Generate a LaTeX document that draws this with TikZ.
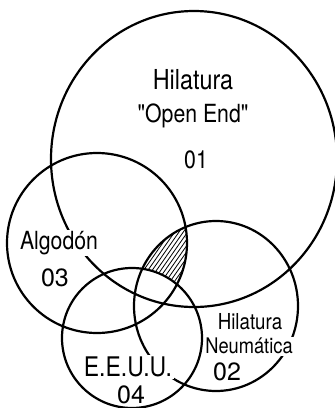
\documentclass[tikz,border=0pt]{standalone}
\usepackage{fontspec}
\setmainfont{TeX Gyre Heros}
\newfontfamily\cond{TeX Gyre Heros}[FakeStretch=0.85]
\tikzset{
  ring/.style={line width=2.2pt},
  txt/.style={inner sep=1.5pt},
  knock/.style={fill=white},
  hatchline/.style={line width=0.8pt}
}
\newcommand{\fsz}[1]{\fontsize{#1}{#1}\selectfont}
\begin{document}
\begin{tikzpicture}[x=1pt,y=-1pt]
\useasboundingbox (0,0) rectangle (335,408);
% hatched region: inside circles 2 and 3, outside circle 4
\begin{scope}
  \clip (216,306) ellipse [x radius=82pt, y radius=85pt];
  \clip (97,243) circle [radius=90pt];
  \foreach \k in {0,...,30}{
    \draw[hatchline] (90+\k*4.3,310) -- ++(55:110pt);
  }
  \fill[white] (132,338) circle [radius=70pt];
\end{scope}
% circles
\draw[ring] (194,159) ellipse [x radius=143pt, y radius=148pt];
\draw[ring] (216,306) ellipse [x radius=82pt, y radius=85pt];
\draw[ring] (97,243) circle [radius=90pt];
\draw[ring] (132,338) circle [radius=70pt];
% labels
\node[txt,font=\cond\fsz{27.5}] (h1) at (193,80) {Hilatura};
\node[txt,font=\cond\fsz{25}] (h2) at (193,116) {"Open End"};
\node[txt,font=\cond\fsz{25}] (o1) at (196,160) {01};
\node[txt,knock,font=\cond\fsz{25}] (alg) at (59,243) {Algodón};
\node[txt,font=\fsz{25}] (n03) at (55,278) {03};
\node[txt,font=\cond\fsz{22}] (h3) at (250,322) {Hilatura};
\node[txt,knock,font=\cond\fsz{21.5}] (neu) at (249,346) {Neumática};
\node[txt,font=\fsz{25}] (n02) at (227,372) {02};
\node[txt,knock,font=\cond\fsz{27}] (eeuu) at (128,367) {E.E.U.U.};
\node[txt,font=\fsz{25}] (n04) at (131,395) {04};
\end{tikzpicture}
\end{document}
